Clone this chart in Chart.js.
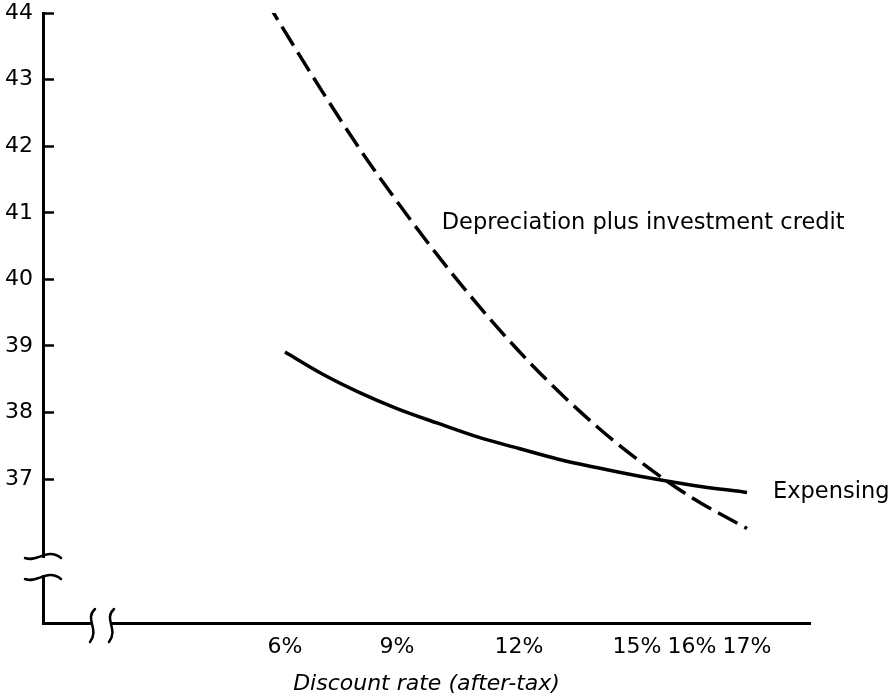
<!DOCTYPE html>
<html lang="en">
<head>
<meta charset="UTF-8">
<title>Expensing vs depreciation</title>
<script src="https://cdn.jsdelivr.net/npm/chart.js"></script>
<style>
  body { margin: 0; background: #fff; }
  #wrap { width: 893px; height: 693px; position: relative; }
</style>
</head>
<body>
<div id="wrap"><canvas id="rateChart"></canvas></div>
<script>
// discount rate (%) and present value for each scheme
const rates = [6, 7, 8, 9, 10, 11, 12, 13, 14, 15, 16, 17];
const expensing = [38.91, 38.58, 38.30, 38.06, 37.84, 37.63, 37.46, 37.30, 37.17, 37.05, 36.91, 36.80];
const depRates = [5.5, 6, 7, 8, 9, 10, 11, 12, 13, 14, 15, 16, 17];
const depreciation = [44.18, 43.72, 42.82, 41.96, 41.17, 40.36, 39.61, 38.92, 38.32, 37.78, 37.30, 36.72, 36.26];

const xTicks = [6, 9, 12, 15, 16, 17];
const yTicks = [37, 38, 39, 40, 41, 42, 43, 44];

// the printed rate axis is not evenly spaced, so stretch it the same way
const tickSpots = [0, 112, 234, 352, 407, 462];
function stretch(r) {
  let i = 0;
  while (i < xTicks.length - 2 && r > xTicks[i + 1]) i++;
  const a = xTicks[i], b = xTicks[i + 1];
  return tickSpots[i] + (r - a) / (b - a) * (tickSpots[i + 1] - tickSpots[i]);
}

class StretchedScale extends Chart.LinearScale {
  static id = 'stretched';
  static defaults = {};
  getPixelForValue(value) {
    return super.getPixelForValue(stretch(value));
  }
}
Chart.register(StretchedScale);

Chart.defaults.font.family = '"DejaVu Sans", sans-serif';
Chart.defaults.font.size = 22;
Chart.defaults.color = '#000';

// squiggly breaks on both axes
const axisBreaks = {
  id: 'axisBreaks',
  afterDraw(chart) {
    const { ctx, chartArea: { left, bottom } } = chart;
    const yb1 = bottom - 67, yb2 = bottom - 46;
    const xb1 = left + 49, xb2 = left + 68;
    ctx.save();
    ctx.fillStyle = '#fff';
    ctx.fillRect(left - 4, yb1 + 2, 8, yb2 - yb1 - 4);
    ctx.fillRect(xb1 + 1, bottom - 4, xb2 - xb1 - 2, 8);
    ctx.strokeStyle = '#000';
    ctx.lineWidth = 2.5;
    ctx.lineCap = 'round';
    [yb1, yb2].forEach(y => {
      ctx.beginPath();
      ctx.moveTo(left - 18, y + 2);
      ctx.bezierCurveTo(left - 6, y + 7, left + 4, y - 9, left + 18, y + 2);
      ctx.stroke();
    });
    [xb1, xb2].forEach(x => {
      ctx.beginPath();
      ctx.moveTo(x + 3, bottom - 14);
      ctx.bezierCurveTo(x - 8, bottom - 4, x + 8, bottom + 6, x - 2, bottom + 19);
      ctx.stroke();
    });
    ctx.restore();
  }
};

const curveLabels = {
  id: 'curveLabels',
  afterDatasetsDraw(chart) {
    const { ctx, scales: { x, y } } = chart;
    const last = chart.getDatasetMeta(0).data.at(-1);
    ctx.save();
    ctx.fillStyle = '#000';
    ctx.font = '22.5px "DejaVu Sans"';
    ctx.textBaseline = 'alphabetic';
    ctx.fillText('Expensing', last.x + 26, last.y + 6);
    ctx.fillText('Depreciation plus investment credit', x.getPixelForValue(10.1), y.getPixelForValue(40.76));
    ctx.restore();
  }
};

new Chart(document.getElementById('rateChart'), {
  type: 'line',
  data: {
    datasets: [
      {
        label: 'Expensing',
        data: rates.map((r, i) => ({ x: r, y: expensing[i] })),
        borderColor: '#000',
        borderWidth: 3.5,
        pointRadius: 0,
        cubicInterpolationMode: 'monotone'
      },
      {
        label: 'Depreciation plus investment credit',
        data: depRates.map((r, i) => ({ x: r, y: depreciation[i] })),
        borderColor: '#000',
        borderWidth: 3.5,
        borderDash: [22, 8],
        pointRadius: 0,
        cubicInterpolationMode: 'monotone'
      }
    ]
  },
  options: {
    responsive: true,
    maintainAspectRatio: false,
    animation: false,
    events: [],
    layout: { padding: { top: 13, right: 83, left: 0, bottom: 0 } },
    plugins: { legend: { display: false }, tooltip: { enabled: false } },
    scales: {
      x: {
        type: 'stretched',
        min: -242,
        max: 525,
        afterBuildTicks: s => { s.ticks = xTicks.map(v => ({ value: v })); },
        afterFit: s => { s.height = 70; s.paddingLeft = 0; s.paddingRight = 0; },
        grid: { display: false },
        border: { color: '#000', width: 3 },
        ticks: { callback: v => v + '%', padding: 3, maxRotation: 0, autoSkip: false },
        title: {
          display: true,
          text: 'Discount rate (after-tax)',
          font: { size: 22, style: 'italic', lineHeight: 0.8 },
          padding: 0
        }
      },
      y: {
        min: 34.84,
        max: 44,
        afterBuildTicks: s => { s.ticks = yTicks.map(v => ({ value: v })); },
        afterFit: s => { s.width = 43; s.paddingTop = 0; s.paddingBottom = 0; },
        grid: { drawOnChartArea: false, tickLength: -11, tickWidth: 2.5, color: '#000' },
        border: { color: '#000', width: 3 },
        ticks: { padding: 21 }
      }
    }
  },
  plugins: [axisBreaks, curveLabels]
});
</script>
</body>
</html>
